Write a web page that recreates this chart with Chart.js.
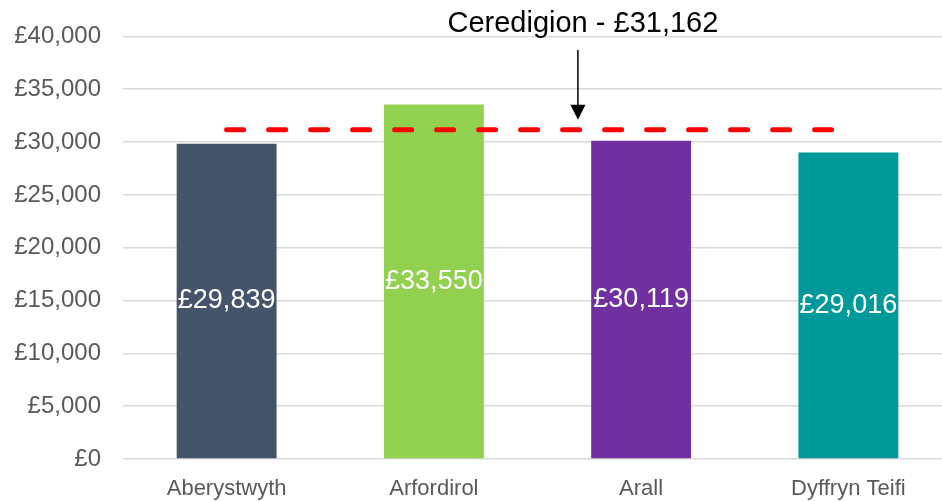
<!DOCTYPE html>
<html>
<head>
<meta charset="utf-8">
<script src="https://cdn.jsdelivr.net/npm/chart.js@4/dist/chart.umd.min.js"></script>
<style>
  html, body { margin: 0; padding: 0; background: #fff; overflow: hidden; }
  #wrap { width: 952px; height: 501px; }
</style>
</head>
<body>
<div id="wrap"><canvas id="c" width="952" height="501"></canvas></div>
<script>
// data
const categories = ['Aberystwyth', 'Arfordirol', 'Arall', 'Dyffryn Teifi'];
const salaries = [29839, 33550, 30119, 29016];
const barColors = ['#44546A', '#92D050', '#7030A0', '#009999'];
const countyAverage = 31162;
const countyName = 'Ceredigion';
const yTicks = [0, 5000, 10000, 15000, 20000, 25000, 30000, 35000, 40000];

const fmt = v => '£' + v.toLocaleString('en-GB');

// value labels in the middle of each bar
const barLabels = {
  id: 'barLabels',
  afterDatasetsDraw(chart) {
    const ctx = chart.ctx;
    const meta = chart.getDatasetMeta(1);
    ctx.save();
    ctx.fillStyle = '#fff';
    ctx.font = '27px "Liberation Sans", Arial, sans-serif';
    ctx.textAlign = 'center';
    ctx.textBaseline = 'middle';
    meta.data.forEach((bar, i) => {
      ctx.fillText(fmt(salaries[i]), bar.x, (bar.y + bar.base) / 2);
    });
    ctx.restore();
  }
};

// callout text + arrow for the county average
const callout = {
  id: 'callout',
  afterDraw(chart) {
    const ctx = chart.ctx;
    const xs = chart.scales.x, ys = chart.scales.y;
    const ax = xs.getPixelForValue(1.695);
    const tipY = ys.getPixelForValue(countyAverage) - 10;
    ctx.save();
    ctx.fillStyle = '#000';
    ctx.strokeStyle = '#000';
    ctx.font = '29px "Liberation Sans", Arial, sans-serif';
    ctx.textAlign = 'center';
    ctx.textBaseline = 'middle';
    ctx.fillText(countyName + ' - ' + fmt(countyAverage), ax + 5, 24);
    ctx.lineWidth = 1.5;
    ctx.beginPath();
    ctx.moveTo(ax, 50);
    ctx.lineTo(ax, tipY - 12);
    ctx.stroke();
    ctx.beginPath();
    ctx.moveTo(ax - 7.5, tipY - 15);
    ctx.lineTo(ax + 7.5, tipY - 15);
    ctx.lineTo(ax, tipY);
    ctx.closePath();
    ctx.fill();
    ctx.restore();
  }
};

new Chart(document.getElementById('c'), {
  data: {
    labels: categories,
    datasets: [
      {
        type: 'line',
        data: categories.map(() => countyAverage),
        borderColor: '#FF0000',
        borderWidth: 5,
        borderDash: [17, 25],
        borderCapStyle: 'round',
        pointRadius: 0,
        order: 0
      },
      {
        type: 'bar',
        data: salaries,
        backgroundColor: barColors,
        barPercentage: 0.482,
        categoryPercentage: 1,
        order: 1
      }
    ]
  },
  plugins: [barLabels, callout],
  options: {
    responsive: false,
    animation: false,
    layout: { padding: { top: 35, left: 0, right: 0, bottom: 0 } },
    plugins: { legend: { display: false }, tooltip: { enabled: false } },
    scales: {
      x: {
        grid: { display: false, drawTicks: false },
        border: { display: false },
        ticks: {
          color: '#595959',
          padding: 17,
          font: { family: '"Liberation Sans", Arial, sans-serif', size: 22 }
        },
        afterFit(s) { s.height = 42; }
      },
      y: {
        min: 0,
        max: 40000,
        afterBuildTicks(s) { s.ticks = yTicks.map(v => ({ value: v })); },
        grid: { color: '#D9D9D9', lineWidth: 1.5, drawTicks: false },
        border: { display: false },
        ticks: {
          color: '#595959',
          padding: 22,
          font: { family: '"Liberation Sans", Arial, sans-serif', size: 24 },
          callback: v => fmt(v)
        },
        afterFit(s) { s.width = 123; }
      }
    }
  }
});
</script>
</body>
</html>
